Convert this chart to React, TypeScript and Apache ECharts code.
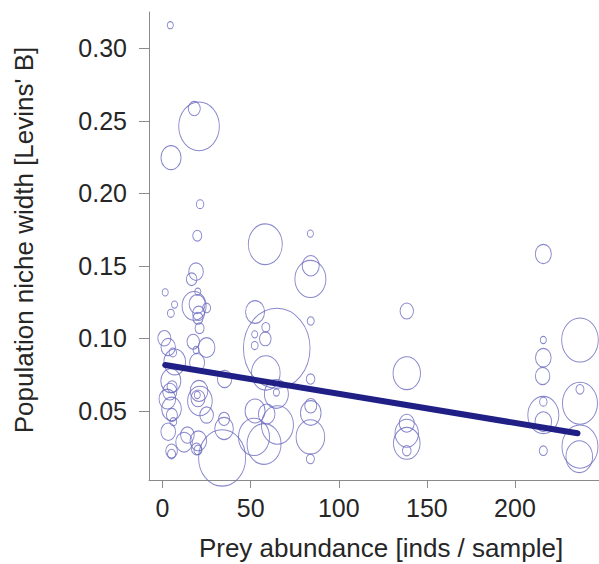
import React, { useEffect, useRef } from "react";
import * as echarts from "echarts";

// Prey abundance [inds / sample]
const preyAbundance = [
  4.4, 18.0, 20.7, 4.8, 21.3, 19.7, 58.3, 83.9, 84.1, 83.9,
  52.5, 84.1, 64.8, 58.6, 52.3, 58.3, 52.3, 58.6, 84.0, 64.6,
  64.6, 84.1, 84.1, 83.9, 83.9, 52.5, 59.1, 65.2, 51.9, 57.6,
  33.8, 34.9, 34.9, 35.2, 25.0, 19.0, 16.5, 1.5, 6.8, 4.7,
  20.0, 17.9, 19.6, 20.5, 25.0, 21.0, 20.1, 1.0, 3.2, 5.8,
  17.4, 19.0, 6.9, 19.6, 4.7, 5.4, 4.1, 20.7, 20.1, 19.7,
  2.7, 21.2, 5.1, 5.3, 25.0, 6.1, 3.2, 14.1, 12.2, 20.3,
  19.3, 5.1, 5.1, 20.1,
  216.1, 138.6, 216.1, 236.9, 216.1, 215.7, 138.6, 236.9, 236.9, 216.1,
  216.1, 216.1, 216.1, 138.6, 138.6, 138.6, 138.6, 236.9, 236.5,
];

// Population niche width [Levins' B]
const nicheWidth = [
  0.3159, 0.2584, 0.2462, 0.2246, 0.1925, 0.1708, 0.1649, 0.1722, 0.1501, 0.141,
  0.1182, 0.112, 0.0932, 0.1077, 0.1028, 0.0997, 0.0951, 0.0762, 0.072, 0.0617,
  0.0627, 0.0536, 0.0486, 0.0321, 0.0169, 0.05, 0.0479, 0.0403, 0.0321, 0.0272,
  0.0176, 0.0445, 0.0379, 0.072, 0.0937, 0.146, 0.1408, 0.1317, 0.1233, 0.1173,
  0.1322, 0.1224, 0.1237, 0.1173, 0.121, 0.107, 0.1139, 0.1001, 0.0941, 0.0903,
  0.0977, 0.092, 0.0838, 0.0834, 0.0708, 0.0667, 0.0633, 0.0638, 0.0587, 0.061,
  0.0582, 0.0569, 0.0514, 0.0472, 0.0472, 0.0426, 0.0357, 0.0334, 0.0285, 0.0294,
  0.0238, 0.0224, 0.0203, 0.0231,
  0.1582, 0.1189, 0.0989, 0.0989, 0.0867, 0.0741, 0.076, 0.0649, 0.0553, 0.0564,
  0.0472, 0.0426, 0.0226, 0.0415, 0.0346, 0.0277, 0.0226, 0.0254, 0.0185,
];

// Bubble weight (drawn as bubble diameter)
const bubbleWeight = [
  6, 12, 40.6, 20, 7.4, 9, 34, 6, 17, 31,
  19, 7, 66.6, 8, 6, 11.6, 6.8, 28.6, 8.6, 24,
  6, 12, 20.6, 28.6, 8, 20, 16.6, 32, 31, 34,
  47, 11, 18.6, 14.4, 16.6, 14.6, 10.6, 6, 6, 6.8,
  6, 24, 16, 12, 8, 9, 10, 13, 14.4, 7.4,
  12.4, 6, 21.6, 15, 20, 10, 14, 17.6, 14, 6,
  16.6, 24.6, 19.6, 11, 13.6, 6.8, 14.6, 13.6, 16.6, 16.6,
  10, 11.6, 8, 8,
  16, 13.4, 6, 36.6, 15.6, 14.4, 27.4, 8, 35, 7.4,
  31, 16.6, 8, 15, 23.4, 26.6, 8.6, 36, 26.6,
];

// Fitted regression line endpoints
const fitX = [1.5, 235.5];
const fitY = [0.0817, 0.0346];

const xTicks = [0, 50, 100, 150, 200];
const yTicks = [0.05, 0.1, 0.15, 0.2, 0.25, 0.3];

const FONT = "'Liberation Sans', Arial, sans-serif";
const ELLIPSE = "path://M0,50A50,50,0,1,1,100,50A50,50,0,1,1,0,50Z";

export default function App() {
  const ref = useRef<HTMLDivElement>(null);
  useEffect(() => {
    if (!ref.current) return;
    const chart = echarts.init(ref.current, null, { renderer: "svg" });
    const bubbles = preyAbundance.map((x, i) => [x, nicheWidth[i], bubbleWeight[i]]);
    const fit = fitX.map((x, i) => [x, fitY[i]]);
    chart.setOption({
      animation: false,
      backgroundColor: "#ffffff",
      grid: { left: 149, top: 12, right: 0, bottom: 84, containLabel: false },
      xAxis: {
        type: "value",
        min: -7.7,
        max: 247.7,
        axisLine: { show: true, onZero: false, lineStyle: { color: "#8a8a8a", width: 1 } },
        axisTick: { show: true, length: 8, customValues: xTicks, lineStyle: { color: "#8a8a8a" } },
        axisLabel: {
          customValues: xTicks,
          fontSize: 25,
          fontFamily: FONT,
          color: "#262626",
          margin: 15,
        },
        splitLine: { show: false },
      },
      yAxis: {
        type: "value",
        min: 0.0024,
        max: 0.325,
        axisLine: { show: true, onZero: false, lineStyle: { color: "#8a8a8a", width: 1 } },
        axisTick: { show: true, length: 10, customValues: yTicks, lineStyle: { color: "#8a8a8a" } },
        axisLabel: {
          customValues: yTicks,
          fontSize: 25,
          fontFamily: FONT,
          color: "#262626",
          margin: 22,
          formatter: (v: number) => v.toFixed(2),
        },
        splitLine: { show: false },
      },
      graphic: [
        {
          type: "text",
          x: 24,
          y: 240,
          rotation: Math.PI / 2,
          style: {
            text: "Population niche width [Levins' B]",
            fontSize: 26,
            fontFamily: FONT,
            fill: "#262626",
            textAlign: "center",
            textVerticalAlign: "middle",
          },
        },
        {
          type: "text",
          x: 381,
          y: 548,
          style: {
            text: "Prey abundance [inds / sample]",
            fontSize: 26,
            fontFamily: FONT,
            fill: "#262626",
            textAlign: "center",
            textVerticalAlign: "middle",
          },
        },
      ],
      series: [
        {
          type: "scatter",
          data: bubbles,
          symbol: ELLIPSE,
          symbolKeepAspect: false,
          symbolSize: (v: number[]) => [v[2], v[2] * 1.2],
          itemStyle: { color: "rgba(0,0,0,0)", borderColor: "#6a6abf", borderWidth: 1 },
          emphasis: { disabled: true },
          z: 2,
        },
        {
          type: "line",
          data: fit,
          showSymbol: false,
          symbol: "none",
          lineStyle: { color: "#1f1f86", width: 6, cap: "round" },
          z: 3,
        },
      ],
    });
    return () => chart.dispose();
  }, []);
  return (
    <div
      ref={ref}
      style={{ position: "fixed", left: 0, top: 0, width: 599, height: 564 }}
    />
  );
}
